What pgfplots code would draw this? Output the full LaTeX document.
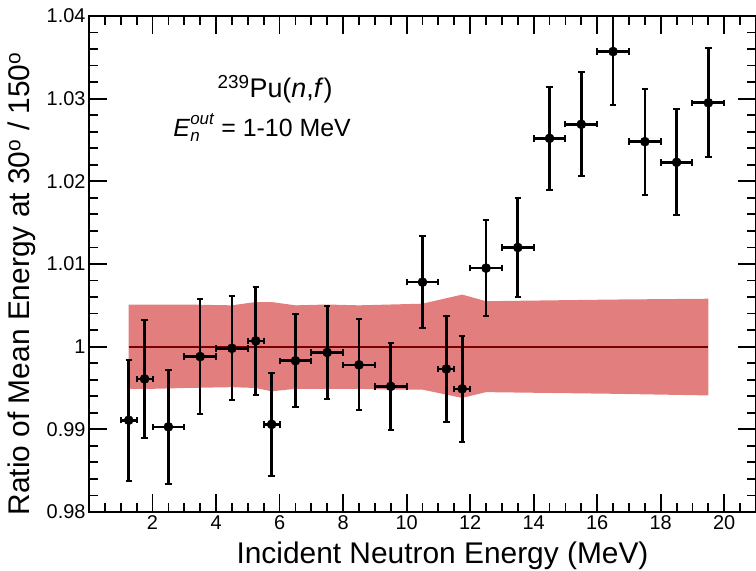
\documentclass[border=0pt]{standalone}
\usepackage{pgfplots}
\pgfplotsset{compat=1.18}
\usepackage{pgfplotstable}
\usepackage{fontspec}
\setmainfont{Liberation Sans}

\definecolor{bandred}{HTML}{E37E7E}
\definecolor{darkline}{HTML}{7A0000}

% Measured ratio: E, ratio, dE (half bin), d(ratio)
\pgfplotstableread{
x     y       ex    ey
1.25  0.9911  0.25  0.0073
1.75  0.9961  0.25  0.0071
2.5   0.9903  0.5   0.0069
3.5   0.9988  0.5   0.0070
4.5   0.9998  0.5   0.0063
5.25  1.0007  0.25  0.0065
5.75  0.9906  0.25  0.0062
6.5   0.9983  0.5   0.0056
7.5   0.9993  0.5   0.0056
8.5   0.9978  0.5   0.0055
9.5   0.9952  0.5   0.0053
10.5  1.0078  0.5   0.0056
11.25 0.9973  0.25  0.0064
11.75 0.9949  0.25  0.0064
12.5  1.0095  0.5   0.0058
13.5  1.0120  0.5   0.0060
14.5  1.0252  0.5   0.0062
15.5  1.0269  0.5   0.0063
16.5  1.0357  0.5   0.0065
17.5  1.0248  0.5   0.0064
18.5  1.0223  0.5   0.0064
19.5  1.0295  0.5   0.0066
}\ratiodata

\begin{document}
\begin{tikzpicture}
\begin{axis}[
  at={(89bp,59bp)}, anchor=south west,
  scale only axis, width=667bp, height=496bp,
  xmin=0, xmax=21, ymin=0.98, ymax=1.04,
  xtick={2,4,...,20},
  minor xtick={0.5,1,...,20.5},
  ytick={0.98,0.99,1,1.01,1.02,1.03,1.04},
  minor ytick={0.982,0.984,0.986,0.988,0.992,0.994,0.996,0.998,1.002,1.004,1.006,1.008,1.012,1.014,1.016,1.018,1.022,1.024,1.026,1.028,1.032,1.034,1.036,1.038},
  yticklabels={0.98,0.99,1,1.01,1.02,1.03,1.04},
  tick align=inside,
  major tick length=18bp, minor tick length=9bp,
  axis line style={line width=1.8bp},
  every tick/.style={black, line width=1.8bp},
  tick label style={font=\fontsize{20}{22}\selectfont},
  /pgf/number format/assume math mode=true,
  xlabel={Incident Neutron Energy (MeV)},
  ylabel={Ratio of Mean Energy at 30\textsuperscript{o} / 150\textsuperscript{o}},
  label style={font=\fontsize{30}{34}\selectfont},
  xlabel style={at={(axis description cs:0.53,0)}, anchor=north, yshift=-26bp},
  ylabel style={at={(axis description cs:0,0.46)}, anchor=south, yshift=50bp},
  clip=true,
]
% systematic uncertainty band
\addplot[fill=bandred, draw=none] coordinates {
  (1.25,1.0051) (2,1.0051) (3,1.0051) (4.5,1.0050) (5.25,1.0054) (5.75,1.0054)
  (6.5,1.0050) (7.5,1.0051) (8.5,1.0050) (9.5,1.0051) (10.5,1.0052) (11.75,1.0063)
  (12.5,1.0055) (14.5,1.0056) (16.5,1.0057) (19.5,1.0058)
  (19.5,0.9941) (16.5,0.9943) (14.5,0.9944) (12.5,0.9945) (11.75,0.9938)
  (10.5,0.9948) (9.5,0.9948) (8.5,0.9949) (7.5,0.9949) (6.5,0.9949) (5.75,0.9946)
  (5.25,0.9950) (4.5,0.9951) (3,0.9950) (2,0.9949) (1.25,0.9949)
} -- cycle;
\addplot[darkline, line width=1.8bp] coordinates {(1.25,1) (19.5,1)};
% data points
\addplot[black, only marks, mark=*, mark size=4.6bp,
  error bars/.cd,
    x dir=both, x explicit, y dir=both, y explicit,
    error bar style={line width=2.6bp, black},
    error mark options={rotate=90, line width=2bp, mark size=3.2bp, black}]
  table[x=x, y=y, x error=ex, y error=ey] {\ratiodata};
\node[font=\fontsize{27}{29}\selectfont] at (axis cs:5.86,1.0312)
  {\textsuperscript{239}Pu(\textit{n},\textit{f})};
\node[font=\fontsize{25}{27}\selectfont] at (axis cs:5.45,1.0265)
  {\textit{E}\raisebox{-0.45ex}{\makebox[0pt][l]{\fontsize{17}{18}\selectfont\textit{n}}}\raisebox{0.9ex}{\fontsize{17}{18}\selectfont\textit{out}} = 1-10 MeV};
\end{axis}
\pgfresetboundingbox
\path[use as bounding box] (0,0) rectangle (756bp,571bp);
\end{tikzpicture}
\end{document}
